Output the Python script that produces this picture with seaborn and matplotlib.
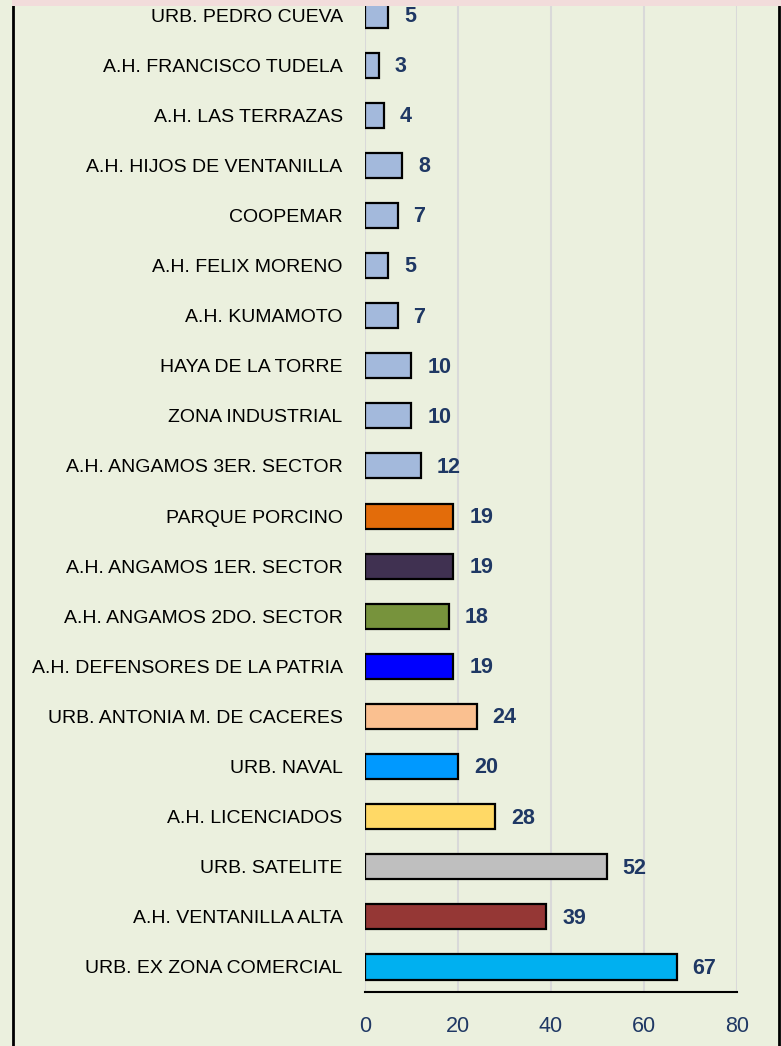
import pandas as pd
import matplotlib.pyplot as plt
import seaborn as sns
from matplotlib.patches import Rectangle
from matplotlib.lines import Line2D

# Data, top to bottom as drawn
zones = [
    "URB. PEDRO CUEVA",
    "A.H. FRANCISCO TUDELA",
    "A.H. LAS TERRAZAS",
    "A.H. HIJOS DE VENTANILLA",
    "COOPEMAR",
    "A.H. FELIX MORENO",
    "A.H. KUMAMOTO",
    "HAYA DE LA TORRE",
    "ZONA INDUSTRIAL",
    "A.H. ANGAMOS 3ER. SECTOR",
    "PARQUE PORCINO",
    "A.H. ANGAMOS 1ER. SECTOR",
    "A.H. ANGAMOS 2DO. SECTOR",
    "A.H. DEFENSORES DE LA PATRIA",
    "URB. ANTONIA M. DE CACERES",
    "URB. NAVAL",
    "A.H. LICENCIADOS",
    "URB. SATELITE",
    "A.H. VENTANILLA ALTA",
    "URB. EX ZONA COMERCIAL",
]
counts = [5, 3, 4, 8, 7, 5, 7, 10, 10, 12, 19, 19, 18, 19, 24, 20, 28, 52, 39, 67]
bar_colors = (
    ["#A3B9DC"] * 10
    + ["#E36C0A", "#403151", "#77933C", "#0000FF", "#FAC090",
       "#0099FF", "#FFD966", "#BFBFBF", "#953735", "#00B0F0"]
)
x_ticks = [0, 20, 40, 60, 80]

BG = "#EBF0DE"
NAVY = "#1F3864"

df = pd.DataFrame({"zone": zones, "count": counts})

sns.set_style("white")
plt.rcParams["font.family"] = ["Liberation Sans", "DejaVu Sans"]

fig = plt.figure(figsize=(7.81, 10.46), dpi=100)
fig.patch.set_facecolor(BG)
ax = fig.add_axes([0.4673, 0.0516, 0.9437 - 0.4673, 0.9484])
ax.set_facecolor(BG)

sns.barplot(
    data=df, x="count", y="zone", hue="zone", palette=bar_colors,
    saturation=1, legend=False, orient="h", width=0.5, edgecolor="black",
    linewidth=1.6, ax=ax, zorder=3,
)

ax.set_xlim(0, 80)
ax.set_ylim(19.5, -0.3)
ax.set_xticks(x_ticks)
ax.set_xticklabels([str(t) for t in x_ticks], color=NAVY, fontsize=15.5)
ax.tick_params(axis="x", length=0, pad=17)
ax.tick_params(axis="y", length=0, pad=16, labelsize=14, labelcolor="black")
ax.set_xlabel("")
ax.set_ylabel("")

ax.grid(axis="x", color="#D9D9D9", linewidth=1.5, zorder=0)
ax.set_axisbelow(True)
for side in ["top", "right", "left"]:
    ax.spines[side].set_visible(False)
ax.spines["bottom"].set_color("black")
ax.spines["bottom"].set_linewidth(1.5)

for i, v in enumerate(counts):
    ax.annotate(
        str(v), xy=(v, i), xytext=(11.5, -1), textcoords="offset points",
        ha="left", va="center", fontsize=15.5, fontweight="bold", color=NAVY,
    )

# chart frame: pink strip on top, black borders left and right
fig.add_artist(Rectangle((0.0154, 0.9947), 0.985, 0.0053, transform=fig.transFigure,
                         facecolor="#F2DCDB", edgecolor="none", zorder=10))
fig.add_artist(Line2D([0.0166, 0.0166], [0, 1], transform=fig.transFigure,
                      color="black", linewidth=2))
fig.add_artist(Line2D([0.9974, 0.9974], [0, 0.9947], transform=fig.transFigure,
                      color="black", linewidth=2))

fig.savefig("out.png", dpi=100, facecolor=BG)
